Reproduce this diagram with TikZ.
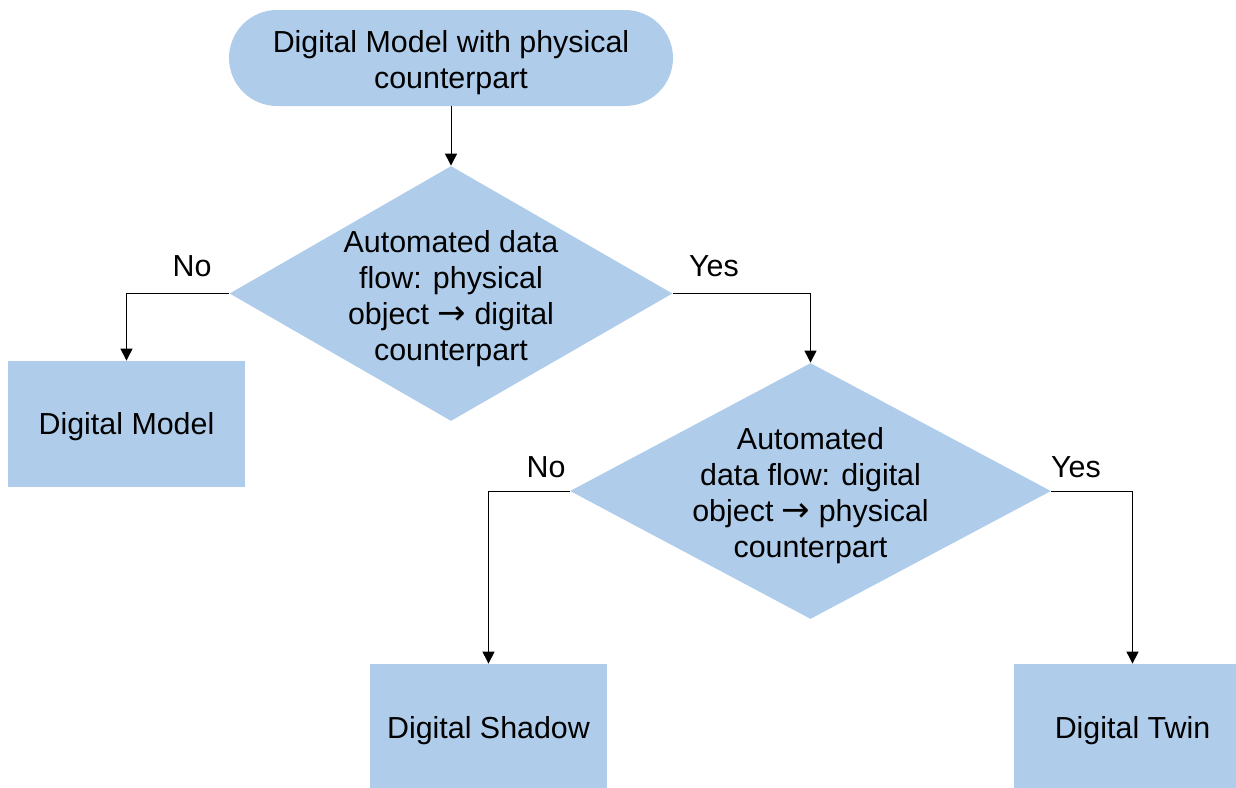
\documentclass[tikz,border=0pt]{standalone}
\usepackage{fontspec}
\setmainfont{Liberation Sans}
\newfontfamily\arrowfont{DejaVu Sans}
\usetikzlibrary{arrows.meta,shapes.geometric}
\newcommand{\rarr}{{\arrowfont\fontsize{17pt}{18pt}\selectfont →}}
\newcommand{\lowered}[2]{\raisebox{#1}[\height][\depth]{#2}}
\definecolor{boxblue}{HTML}{AFCDEB}
\tikzset{
  every node/.style={font=\fontsize{15.2pt}{18pt}\selectfont},
  terminal/.style={fill=boxblue, rectangle, rounded corners=24pt, minimum width=222pt, minimum height=48pt, align=center, inner sep=0pt},
  outcome/.style={fill=boxblue, rectangle, minimum width=118.5pt, minimum height=63pt, align=center, inner sep=0pt},
  decision/.style={fill=boxblue, diamond, inner sep=0pt},
  flow/.style={draw=black, line width=0.5pt, -{Triangle[length=6pt,width=6pt]}},
  branch/.style={inner sep=0pt}
}
\begin{document}
\begin{tikzpicture}[x=0.5pt, y=-0.5pt]
\useasboundingbox (0,0) rectangle (1236,787);
\clip (0,0) rectangle (1236,787);

% start
\node[terminal] (start) at (451,58) {\lowered{-2.5pt}{\begin{tabular}{@{}c@{}}Digital Model with physical\\counterpart\end{tabular}}};

% first decision
\node[decision, minimum width=221.5pt, minimum height=127.5pt,
      label={[align=center, yshift=-2.5pt]center:Automated data\\flow: physical\\object \rarr{} digital\\counterpart}]
      (dec1) at (451,293.5) {};

% second decision
\node[decision, minimum width=240.5pt, minimum height=128pt,
      label={[align=center, yshift=-2.5pt]center:Automated\\data flow: digital\\object \rarr{} physical\\counterpart}]
      (dec2) at (810.5,491) {};

% outcomes
\node[outcome] (model)  at (126.5,424) {\lowered{-1.5pt}{Digital Model}};
\node[outcome] (shadow) at (488.5,727) {\lowered{-2pt}{Digital Shadow}};
\node[outcome] (twin)   at (1132.5,727) {\lowered{-2pt}{Digital Twin}};

% branch labels
\node[branch] (no1)  at (192,266) {No};
\node[branch] (yes1) at (714,266) {Yes};
\node[branch] (no2)  at (546,467) {No};
\node[branch] (yes2) at (1076,467) {Yes};

% connectors
\draw[flow] (start.south) -- (dec1.north);
\draw[flow] (dec1.west) -| (model.north);
\draw[flow] (dec1.east) -| (dec2.north);
\draw[flow] (dec2.west) -| (shadow.north);
\draw[flow] (dec2.east) -| (twin.north);
\end{tikzpicture}
\end{document}
